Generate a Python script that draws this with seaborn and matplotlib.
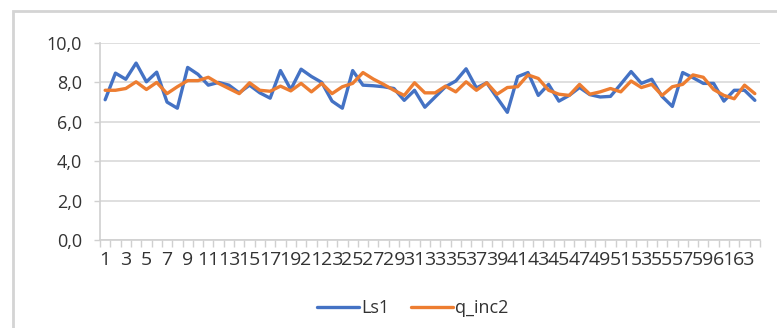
import numpy as np
import pandas as pd
import seaborn as sns
import matplotlib.pyplot as plt
from matplotlib.patches import Rectangle

# values
ls1 = [7.12, 8.47, 8.16, 8.98, 8.03, 8.52, 7.0, 6.69, 8.76, 8.41,
       7.86, 8.0, 7.86, 7.47, 7.86, 7.47, 7.2, 8.6, 7.64, 8.67,
       8.3, 8.0, 7.05, 6.69, 8.6, 7.86, 7.83, 7.78, 7.69, 7.09,
       7.6, 6.74, 7.26, 7.78, 8.07, 8.69, 7.72, 7.98, 7.22, 6.48,
       8.29, 8.5, 7.34, 7.9, 7.05, 7.34, 7.74, 7.38, 7.26, 7.29,
       7.91, 8.55, 7.95, 8.16, 7.29, 6.78, 8.5, 8.24, 7.95, 7.95,
       7.05, 7.6, 7.6, 7.09]
q_inc2 = [7.6, 7.6, 7.69, 8.03, 7.64, 8.0, 7.43, 7.78, 8.09, 8.09,
          8.26, 7.95, 7.69, 7.43, 7.98, 7.6, 7.55, 7.81, 7.57, 7.95,
          7.52, 7.95, 7.43, 7.78, 7.95, 8.5, 8.17, 7.9, 7.6, 7.34,
          7.98, 7.47, 7.47, 7.81, 7.52, 8.03, 7.6, 7.98, 7.4, 7.74,
          7.78, 8.38, 8.2, 7.6, 7.4, 7.34, 7.9, 7.4, 7.52, 7.69,
          7.52, 8.07, 7.74, 7.9, 7.34, 7.78, 7.9, 8.38, 8.26, 7.64,
          7.34, 7.17, 7.86, 7.43]
idx = np.arange(1, len(ls1) + 1)
y_ticks = [0, 2, 4, 6, 8, 10]
y_labels = ['0,0', '2,0', '4,0', '6,0', '8,0', '10,0']

df = pd.DataFrame({'x': np.concatenate([idx, idx]),
                   'val': ls1 + q_inc2,
                   'serie': ['Ls1'] * len(ls1) + ['q_inc2'] * len(q_inc2)})

sns.set_style('white')
plt.rcParams['font.family'] = ['Open Sans', 'DejaVu Sans']

fig = plt.figure(figsize=(7.77, 3.28), dpi=100)
ax = fig.add_axes([100 / 777, 1 - 240 / 328, 660 / 777, 197 / 328])

sns.lineplot(data=df, x='x', y='val', hue='serie',
             palette=['#4472C4', '#ED7D31'], linewidth=2.4, ax=ax)

ax.set_xlim(0.5, len(ls1) + 0.5)
ax.set_ylim(0, 10)
ax.set_yticks(y_ticks)
ax.set_yticklabels(y_labels)
ax.set_xticks(idx[::2])
ax.set_xticklabels([str(i) for i in idx[::2]])
ax.set_xticks(np.arange(0.5, len(ls1) + 1), minor=True)
ax.set_xlabel('')
ax.set_ylabel('')

ax.grid(axis='y', color='#d9d9d9', linewidth=1.2)
ax.set_axisbelow(True)
for s in ['top', 'right']:
    ax.spines[s].set_visible(False)
for s in ['left', 'bottom']:
    ax.spines[s].set_color('#d0d0d0')
    ax.spines[s].set_linewidth(1.2)

ax.tick_params(axis='y', which='major', length=4, color='#d0d0d0', width=1,
               pad=9, labelsize=13, labelcolor='#333333', left=True)
ax.tick_params(axis='x', which='major', length=0, pad=8,
               labelsize=14, labelcolor='#333333')
ax.tick_params(axis='x', which='minor', length=5, color='#d0d0d0', width=1,
               bottom=True, direction='out')

ax.legend(loc='center', bbox_to_anchor=(413 / 777, 1 - 308 / 328),
          bbox_transform=fig.transFigure, ncol=2, frameon=False,
          fontsize=13, handlelength=2.3, handletextpad=0.15,
          columnspacing=1.2, labelcolor='#333333')

# chart frame like the Excel chart area
fig.patches.append(Rectangle((13 / 777, -0.1), 1.0, 1 - 11 / 328 + 0.1,
                             transform=fig.transFigure, fill=False,
                             edgecolor='#d4d4d4', linewidth=2))

plt.savefig('out.png', dpi=100)
